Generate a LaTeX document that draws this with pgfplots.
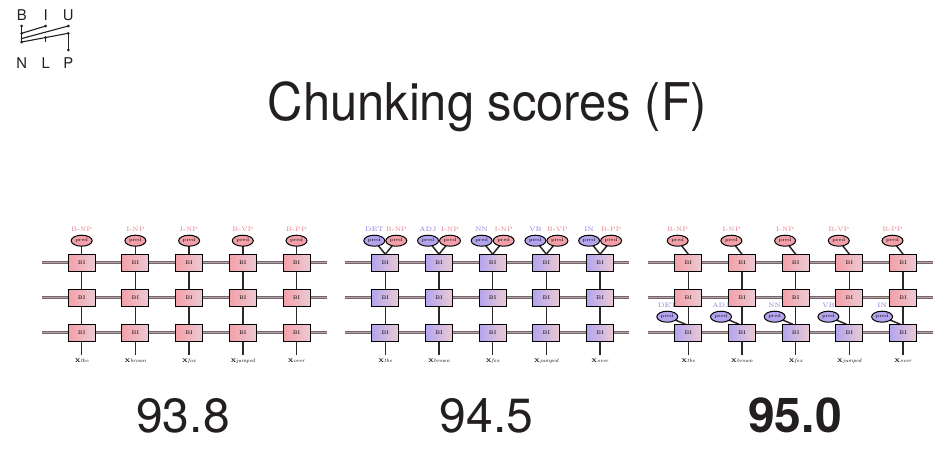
\documentclass[border=0pt]{standalone}
\usepackage{pgfplots}
\pgfplotsset{compat=1.18}
\usepackage{fontspec}
\usetikzlibrary{shapes.geometric}
\newfontfamily\heros{TeX Gyre Heros}
\newfontfamily\titlefont[FakeStretch=0.94]{TeX Gyre Heros}
\definecolor{pinkfill}{HTML}{F4A0A9}
\definecolor{pinklight}{HTML}{EBCAD3}
\definecolor{purplefill}{HTML}{B4A4EE}
\definecolor{pinktext}{HTML}{E5808C}
\definecolor{purpletext}{HTML}{8A7ADA}
\definecolor{hdark}{HTML}{75666B}
\definecolor{hlight}{HTML}{B3A4A8}
\definecolor{vdark}{HTML}{2E2629}
\definecolor{ink}{HTML}{231F20}
\tikzset{
  hline/.style={draw=hdark,double=hlight,line width=0.55pt,double distance=0.55pt},
  vline/.style={draw=vdark,line width=0.75pt},
  pbox/.style={rectangle,draw=black,line width=0.5pt,minimum width=13.5pt,minimum height=8.5pt,inner sep=0pt,
    left color=pinkfill,middle color=pinkfill,right color=pinklight,font=\fontsize{2.6}{3}\selectfont},
  ubox/.style={rectangle,draw=black,line width=0.5pt,minimum width=13.5pt,minimum height=8.5pt,inner sep=0pt,
    left color=purplefill,middle color=purplefill,right color=pinklight,font=\fontsize{2.6}{3}\selectfont},
  pell/.style={ellipse,draw=black,line width=0.5pt,fill=pinkfill,minimum width=10.5pt,minimum height=5.5pt,inner sep=0pt,font=\fontsize{2.4}{3}\selectfont},
  uell/.style={ellipse,draw=black,line width=0.5pt,fill=purplefill,minimum width=10.5pt,minimum height=5.5pt,inner sep=0pt,font=\fontsize{2.4}{3}\selectfont},
  plab/.style={text=pinktext,font=\fontsize{3.2}{4}\selectfont,inner sep=0pt},
  ulab/.style={text=purpletext,font=\fontsize{3.2}{4}\selectfont,inner sep=0pt},
  wlab/.style={text=black,font=\fontsize{2.6}{3}\selectfont,inner sep=0pt},
  logoline/.style={draw=ink,line width=0.55pt},
  logodot/.style={fill=ink},
}
% panel 1 column: x, chunk, word
\newcommand{\colA}[3]{%
  \draw[vline] (#1,240.7) -- (#1,355);
  \node[pbox] at (#1,262.7) {BI};
  \node[pbox] at (#1,297.7) {BI};
  \node[pbox] at (#1,332.7) {BI};
  \node[pell] at (#1,240.7) {pred};
  \node[plab] at (#1,229) {#2};
  \node[wlab] at (#1,361) {\textbf{X}\textit{#3}};
}
% panel 2 column: x, pos, chunk, word
\newcommand{\colB}[4]{%
  \draw[vline] (#1,262.7) -- (#1,355);
  \draw[vline] ({#1-11},240.7) -- (#1,254.2);
  \draw[vline] ({#1+11},240.7) -- (#1,254.2);
  \node[ubox] at (#1,262.7) {BI};
  \node[ubox] at (#1,297.7) {BI};
  \node[ubox] at (#1,332.7) {BI};
  \node[uell] at ({#1-11},240.7) {pred};
  \node[pell] at ({#1+11},240.7) {pred};
  \node[ulab] at ({#1-11},229) {#2};
  \node[plab] at ({#1+11},229) {#3};
  \node[wlab] at (#1,361) {\textbf{X}\textit{#4}};
}
% panel 3 column: x, pos, chunk, word
\newcommand{\colC}[4]{%
  \draw[vline] (#1,262.7) -- (#1,355);
  \draw[vline] ({#1-10.6},240.7) -- (#1,254.2);
  \draw[vline] ({#1-21},316.7) -- ({#1-3},324.2);
  \node[pbox] at (#1,262.7) {BI};
  \node[pbox] at (#1,297.7) {BI};
  \node[ubox] at (#1,332.7) {BI};
  \node[pell] at ({#1-10.6},240.7) {pred};
  \node[uell] at ({#1-21},316.7) {pred};
  \node[plab] at ({#1-10.6},229) {#3};
  \node[ulab] at ({#1-21},305) {#2};
  \node[wlab] at (#1,361) {\textbf{X}\textit{#4}};
}
\newcommand{\hlines}[2]{%
  \draw[hline] (#1,262.7) -- (#2,262.7);
  \draw[hline] (#1,297.7) -- (#2,297.7);
  \draw[hline] (#1,332.7) -- (#2,332.7);
}
\begin{document}
\begin{tikzpicture}
\begin{axis}[
  scale only axis, width=476pt, height=234pt,
  xmin=0, xmax=952, ymin=0, ymax=468, y dir=reverse,
  axis lines=none, clip=false,
]
\coordinate (bl) at (0,468);
\coordinate (tr) at (952,0);
% logo
\node[font=\heros\fontsize{7.4}{8}\selectfont,text=ink] at (21.7,15) {B};
\node[font=\heros\fontsize{7.4}{8}\selectfont,text=ink] at (45.7,15) {I};
\node[font=\heros\fontsize{7.4}{8}\selectfont,text=ink] at (68.3,15) {U};
\node[font=\heros\fontsize{7.4}{8}\selectfont,text=ink] at (21.7,62.7) {N};
\node[font=\heros\fontsize{7.4}{8}\selectfont,text=ink] at (45.7,62.7) {L};
\node[font=\heros\fontsize{7.4}{8}\selectfont,text=ink] at (68.3,62.7) {P};
\draw[logoline] (21.7,26) -- (21.7,42);
\draw[logoline] (21.7,33.3) -- (45.7,26);
\draw[logoline] (21.7,38.5) -- (68.3,26);
\draw[logoline] (21.7,42) -- (68.3,33.3);
\draw[logoline] (45.7,37.5) -- (45.7,42);
\draw[logoline] (68.3,33.3) -- (68.3,50);
\fill[logodot] (21.7,26) circle[radius=0.75pt];
\fill[logodot] (45.7,26) circle[radius=0.75pt];
\fill[logodot] (68.3,26) circle[radius=0.75pt];
\fill[logodot] (21.7,33.3) circle[radius=0.75pt];
\fill[logodot] (68.3,33.3) circle[radius=0.75pt];
\fill[logodot] (21.7,42) circle[radius=0.75pt];
\fill[logodot] (45.7,37.5) circle[radius=0.75pt];
\fill[logodot] (68.3,50) circle[radius=0.75pt];
% title
\node[font=\titlefont\fontsize{26}{30}\selectfont,text=ink,anchor=base,inner sep=0pt] at (487.5,120) {Chunking scores (F)};
% panel 1
\hlines{41.7}{326.7}
\colA{81.7}{B-NP}{the}
\colA{135.4}{I-NP}{brown}
\colA{189.1}{I-NP}{fox}
\colA{242.8}{B-VP}{jumped}
\colA{296.5}{B-PP}{over}
% panel 2
\hlines{345.0}{629.3}
\colB{385.3}{DET}{B-NP}{the}
\colB{439.0}{ADJ}{I-NP}{brown}
\colB{492.7}{NN}{I-NP}{fox}
\colB{546.4}{VB}{B-VP}{jumped}
\colB{600.1}{IN}{B-PP}{over}
% panel 3
\hlines{648.3}{933.3}
\colC{688.3}{DET}{B-NP}{the}
\colC{742.0}{ADJ}{I-NP}{brown}
\colC{795.7}{NN}{I-NP}{fox}
\colC{849.4}{VB}{B-VP}{jumped}
\colC{903.1}{IN}{B-PP}{over}
% scores
\addplot[draw=none, mark=none, nodes near coords, point meta=explicit symbolic,
  every node near coord/.append style={anchor=base,inner sep=0pt,text=ink,font=\heros\fontsize{24}{28}\selectfont}]
  coordinates {(183,432.7) [93.8] (486.5,432.7) [94.5]};
\addplot[draw=none, mark=none, nodes near coords, point meta=explicit symbolic,
  every node near coord/.append style={anchor=base,inner sep=0pt,text=ink,font=\heros\bfseries\fontsize{24}{28}\selectfont}]
  coordinates {(795,432.7) [95.0]};
\end{axis}
\pgfresetboundingbox
\path[use as bounding box] (bl) rectangle (tr);
\end{tikzpicture}
\end{document}
